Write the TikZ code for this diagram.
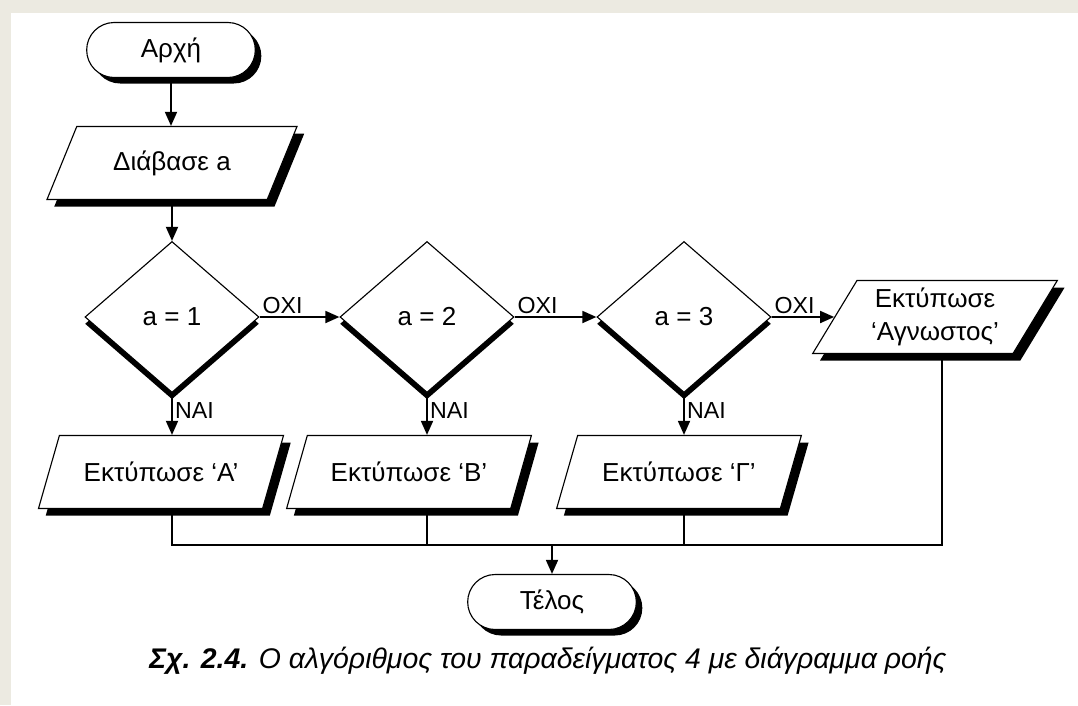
\documentclass[tikz,border=0pt]{standalone}
\usepackage{fontspec}
\setmainfont{Liberation Sans}
\usetikzlibrary{arrows.meta,shapes.geometric,shapes.misc,shadows,calc}
\definecolor{beige}{HTML}{ECEAE1}

\tikzset{
  boxfont/.style={font=\fontsize{18.5}{23.5}\selectfont},
  terminal/.style={rounded rectangle, draw, fill=white, line width=0.8pt, boxfont,
    minimum width=4.45cm, minimum height=1.375cm,
    drop shadow={shadow xshift=0.15cm, shadow yshift=-0.15cm, fill=black, opacity=1}},
  iobox/.style={trapezium, trapezium left angle=60, trapezium right angle=120,
    trapezium stretches=true, draw, fill=white, line width=0.8pt, boxfont, align=center,
    minimum width=6.125cm, minimum height=1.825cm,
    drop shadow={shadow xshift=0.18cm, shadow yshift=-0.18cm, fill=black, opacity=1}},
  decision/.style={diamond, draw, fill=white, line width=0.8pt, boxfont, inner sep=0pt,
    minimum width=4.35cm, minimum height=3.775cm,
    drop shadow={shadow xshift=0cm, shadow yshift=-0.17cm, fill=black, opacity=1}},
  flowline/.style={line width=1.4pt},
  conn/.style={flowline, -{Triangle[length=10pt,width=8.5pt]}},
  lbl/.style={font=\fontsize{16.5}{19}\selectfont, inner sep=1.5pt},
}

\begin{document}
\begin{tikzpicture}[x=0.025cm,y=-0.025cm]
  % page and frame
  \useasboundingbox (0,0) rectangle (1078,705);
  \fill[beige] (0,0) rectangle (1078,705);
  \fill[white] (11,13) rectangle (1078,705);

  % boxes
  \node[terminal] (start) at (171,50) {Αρχή};
  \node[iobox, minimum width=6.25cm] (read) at (172,163) {Διάβασε a};
  \node[decision] (d1) at (172,317) {a = 1};
  \node[decision] (d2) at (427,317) {a = 2};
  \node[decision] (d3) at (684,317) {a = 3};
  \node[iobox] (un) at (935,317) {Εκτύπωσε\\‘Αγνωστος’};
  \node[iobox] (pA) at (161,472) {Εκτύπωσε ‘Α’};
  \node[iobox] (pB) at (409,472) {Εκτύπωσε ‘Β’};
  \node[iobox] (pC) at (679,472) {Εκτύπωσε ‘Γ’};
  \node[terminal] (end) at (552,602) {Τέλος};
  \coordinate (mr) at (942,545);

  % flow
  \draw[conn] (start.south) -- (start.south |- read.north);
  \draw[conn] (d1.north |- read.south) -- (d1.north);
  \foreach \a/\b in {d1/d2, d2/d3, d3/un}{
    \draw[conn] (\a.east) -- (\b.west)
      node[lbl, pos=0, anchor=south west] {ΟΧΙ};
  }
  \foreach \d/\p in {d1/pA, d2/pB, d3/pC}{
    \draw[conn] (\d.south) -- (\d.south |- \p.north)
      node[lbl, pos=0.42, right] {ΝΑΙ};
  }
  \draw[flowline] (pA.south -| d1) |- (mr) -- (un.south -| mr);
  \draw[flowline] (pB.south -| d2) -- (d2 |- mr);
  \draw[flowline] (pC.south -| d3) -- (d3 |- mr);
  \draw[conn] (end |- mr) -- (end.north);

  % caption
  \node[font=\fontsize{20.2}{23}\selectfont\itshape] (cap) at (548,661)
    {{\bfseries Σχ. 2.4.} Ο αλγόριθμος του παραδείγματος 4 με διάγραμμα ροής};
\end{tikzpicture}
\end{document}
